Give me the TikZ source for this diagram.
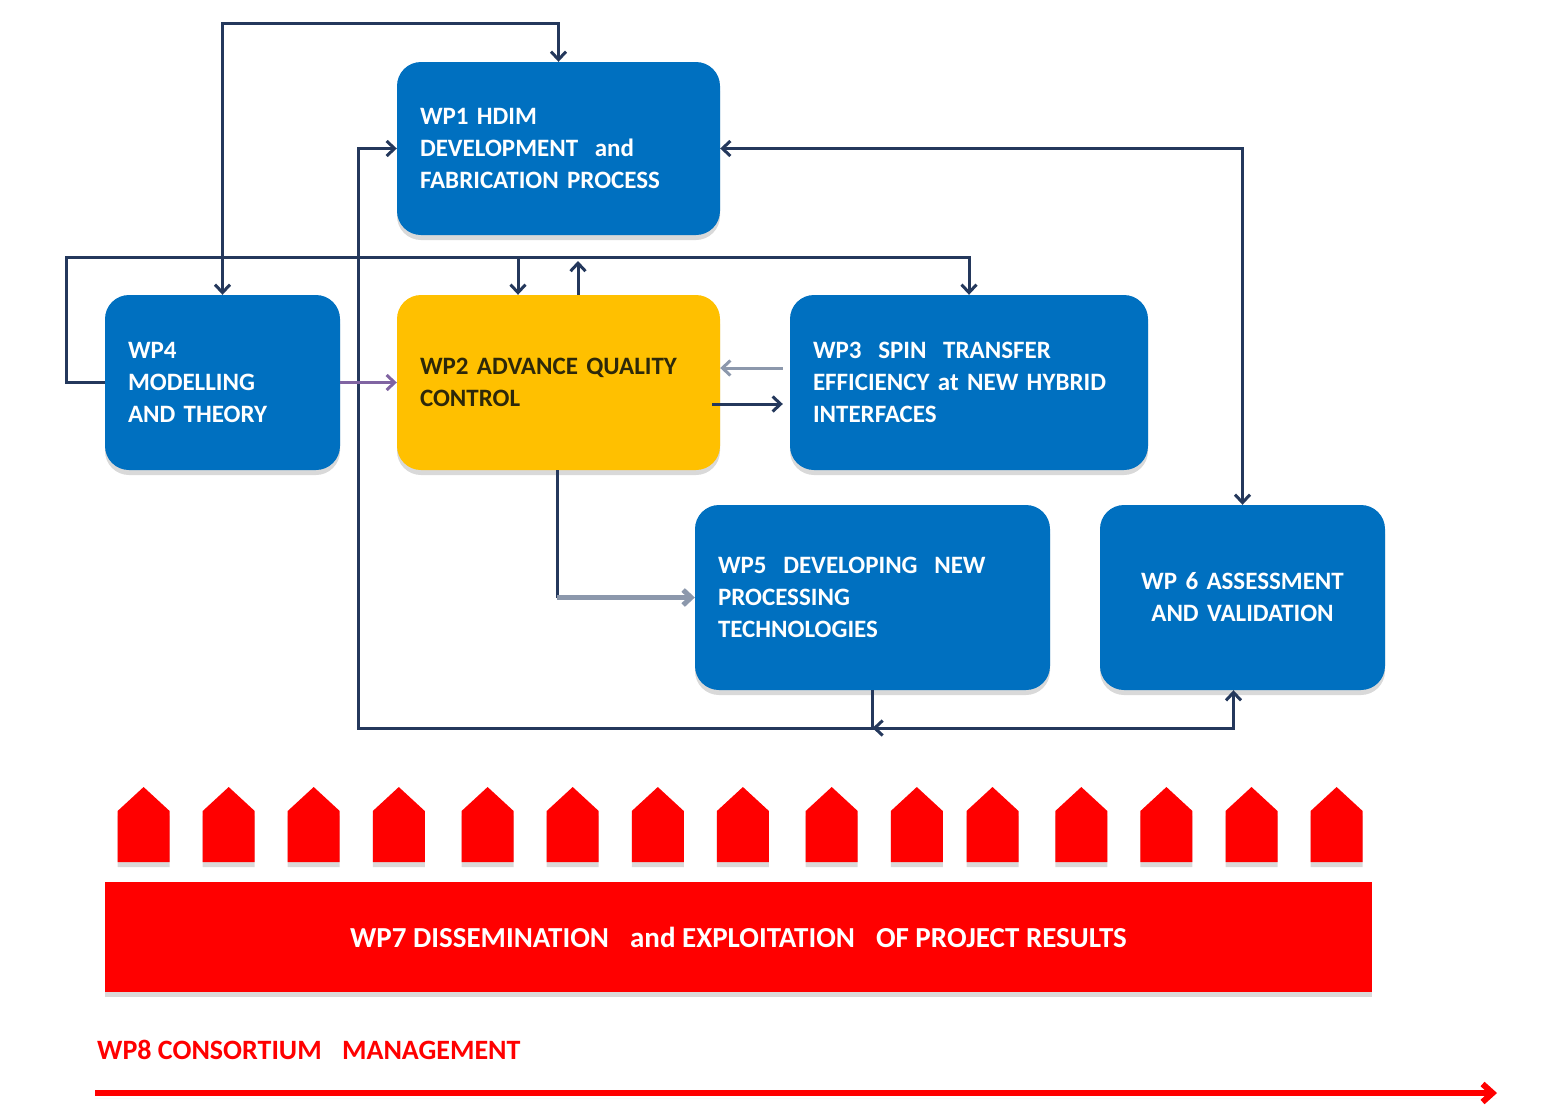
\documentclass[tikz,border=0pt]{standalone}
\usepackage{fontspec}
\setmainfont{Carlito}
\usetikzlibrary{positioning, arrows.meta, shadows, calc}
\definecolor{WPBlue}{RGB}{0, 112, 192}
\definecolor{WPYellow}{RGB}{255, 192, 0}
\definecolor{WPRed}{RGB}{255, 0, 0}
\definecolor{LinkNavy}{RGB}{36, 56, 92}
\definecolor{LinkGray}{RGB}{140, 152, 172}
\definecolor{LinkPurple}{RGB}{128, 100, 162}
\definecolor{TextDark}{RGB}{45, 40, 10}

\begin{document}
\begin{tikzpicture}[x=1pt, y=-1pt,
    >={Straight Barb[length=8pt, width=15pt]},
    wpbox/.style={fill=WPBlue, rounded corners=24pt, text=white, inner xsep=23pt, inner ysep=0pt,
      align=left, font=\fontsize{25}{32}\selectfont\bfseries,
      drop shadow={shadow xshift=0pt, shadow yshift=-5pt, opacity=0.3}},
    link/.style={draw=LinkNavy, line width=3pt},
    graylink/.style={draw=LinkGray, line width=5pt},
    redshadow/.style={drop shadow={shadow xshift=0pt, shadow yshift=-5pt, opacity=0.3}}]
  \useasboundingbox (0,0) rectangle (1546,1114);

  % Work packages
  \node[wpbox, text width=277pt, minimum height=173pt] (wp1) at (558.5,148.5)
    {WP1 HDIM\\DEVELOPMENT~ and\\FABRICATION PROCESS};
  \node[wpbox, text width=189pt, minimum height=175pt] (wp4) at (222.5,382.5)
    {WP4\\MODELLING\\AND THEORY};
  \node[wpbox, fill=WPYellow, text=TextDark, text width=277pt, minimum height=175pt] (wp2) at (558.5,382.5)
    {WP2 ADVANCE QUALITY\\CONTROL};
  \node[wpbox, text width=312pt, minimum height=175pt] (wp3) at (969,382.5)
    {WP3~ SPIN~ TRANSFER\\EFFICIENCY at NEW HYBRID\\INTERFACES};
  \node[wpbox, text width=309pt, minimum height=185pt] (wp5) at (872.5,597.5)
    {WP5~ DEVELOPING~ NEW\\PROCESSING\\TECHNOLOGIES};
  \node[wpbox, align=center, text width=239pt, minimum height=185pt] (wp6) at (1242.5,597.5)
    {WP 6 ASSESSMENT\\AND VALIDATION};

  % Connectors
  \coordinate (topline) at (0,23);
  \coordinate (midline) at (66,257);
  \coordinate (loopL) at (358,728);
  \draw[link, <->] (wp4.north) -- (wp4.north |- topline) -- (topline -| wp1.north) -- (wp1.north);
  \draw[link, ->] (wp4.west) -- (wp4.west -| midline) -- (midline) -| (wp3.north);
  \draw[link, ->] ([xshift=-40.5pt]wp2.north |- midline) -- ([xshift=-40.5pt]wp2.north);
  \draw[link, ->] ([xshift=19.5pt]wp2.north) -- ([xshift=19.5pt,yshift=-4pt]wp2.north |- midline);
  \draw[link, <->] (wp1.east) -| (wp6.north);
  \draw[link, ->] (wp5.south) -- (wp5.south |- loopL) coordinate (junction) -- (loopL) |- (wp1.west);
  \draw[link, ->] ([xshift=7pt]junction) -- (junction);
  \draw[link, ->] (junction) -| ([xshift=-9pt]wp6.south);
  \draw[link, draw=LinkPurple, ->] (wp4.east) -- (wp2.west);
  \draw[link, draw=LinkGray, ->, shorten <=7pt] ([yshift=14.5pt]wp3.west) -- ([yshift=14.5pt]wp2.east);
  \draw[link, ->, shorten <=-8pt, shorten >=7pt] ([yshift=-21.5pt]wp2.east) -- ([yshift=-21.5pt]wp3.west);
  \draw[link] ([xshift=-1.5pt]wp2.south) -- ([xshift=-1.5pt]wp2.south |- wp5.west) coordinate (corner25);
  \draw[graylink, ->] (corner25) -- (wp5.west);

  % Dissemination arrows
  \foreach \cx in {143.6,228.7,313.7,398.8,487.6,572.7,657.8,742.9,831.7,916.8,992.5,1081.3,1166.4,1251.5,1336.6}
    \fill[WPRed, redshadow] (\cx-26,862) -- (\cx-26,811) -- (\cx,787) -- (\cx+26,811) -- (\cx+26,862) -- cycle;

  % WP7 bar
  \node[fill=WPRed, redshadow, minimum width=1267pt, minimum height=110pt, text=white,
    font=\fontsize{29}{34}\selectfont\bfseries] (wp7) at (738.5,937)
    {WP7 DISSEMINATION\enspace\ and EXPLOITATION\enspace\ OF PROJECT RESULTS};

  % WP8 management
  \node[anchor=west, inner sep=0pt, text=WPRed, font=\fontsize{28}{34}\selectfont\bfseries] (wp8) at (97,1050)
    {WP8 CONSORTIUM\enspace\ MANAGEMENT};
  \coordinate (mgmtStart) at (95,1093);
  \coordinate (mgmtEnd) at (1497,1093);
  \draw[WPRed, line width=6pt, redshadow, -{Straight Barb[length=10pt, width=18pt]}] (mgmtStart) -- (mgmtEnd);
\end{tikzpicture}
\end{document}
